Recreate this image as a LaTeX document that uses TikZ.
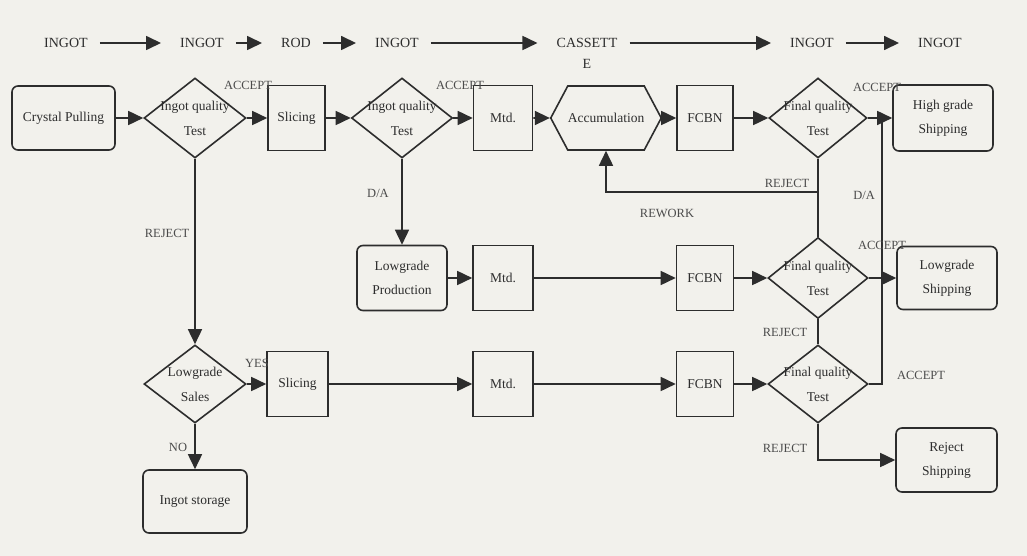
\documentclass[tikz,border=0pt]{standalone}
\usepackage{fontspec}
\setmainfont{Liberation Serif}
\usetikzlibrary{arrows.meta,shapes.geometric,shapes.symbols}
\definecolor{bg}{RGB}{242,241,236}
\definecolor{ink}{RGB}{45,45,45}
\definecolor{lab}{RGB}{75,75,75}
\newcommand{\dtext}[1]{\smash{\makebox[0pt]{\raisebox{-4pt}{\begin{tabular}{@{}c@{}}#1\end{tabular}}}}}
\begin{document}
\begin{tikzpicture}[x=1pt,y=-1pt,
  every node/.style={text=ink},
  nfont/.style={font=\fontsize{13.5}{24}\selectfont},
  box/.style={draw=ink,line width=1.6pt,rectangle,inner sep=0pt,minimum height=65pt,nfont,align=center},
  rbox/.style={box,rounded corners=6pt},
  dec/.style={draw=ink,line width=1.6pt,diamond,inner sep=0pt,minimum width=100pt,minimum height=80pt,font=\fontsize{13.5}{25}\selectfont},
  hexa/.style={draw=ink,line width=1.6pt,signal,signal to=west and east,signal pointer angle=124,inner sep=0pt,minimum width=98pt,minimum height=64pt,nfont},
  lab/.style={text=lab,inner sep=0pt,font=\fontsize{12.5}{14}\selectfont},
  toplab/.style={inner sep=0pt,font=\fontsize{14}{16}\selectfont},
  arr/.style={draw=ink,line width=1.6pt,-{Triangle[length=15pt,width=14pt]}},
  ln/.style={draw=ink,line width=1.6pt},
  tarr/.style={arr,shorten <=12pt,shorten >=19pt}
]
\fill[bg] (0,0) rectangle (1027,556);
\useasboundingbox (0,0) rectangle (1027,556);

% top row
\node[toplab] (t1) at (66,43) {INGOT};
\node[toplab] (t2) at (202,43) {INGOT};
\node[toplab] (t3) at (296,43) {ROD};
\node[toplab] (t4) at (397,43) {INGOT};
\node[toplab] (t5) at (587,43) {CASSETT};
\node[toplab] (t5e) at (587,64) {E};
\node[toplab] (t6) at (812,43) {INGOT};
\node[toplab] (t7) at (940,43) {INGOT};
\draw[tarr] (t1) -- (t2);
\draw[tarr] (t2) -- (t3);
\draw[tarr] (t3) -- (t4);
\draw[tarr] (t4) -- (t5);
\draw[tarr] (t5) -- (t6);
\draw[tarr] (t6) -- (t7);

% row 1
\node[rbox,minimum width=103pt,minimum height=64pt] (cp) at (63.5,118) {Crystal Pulling};
\node[dec,minimum width=102pt] (d1) at (195,118) {\dtext{Ingot quality\\Test}};
\node[box,minimum width=57pt] (s1) at (296.5,118) {Slicing};
\node[dec,minimum width=101pt] (d2) at (402,118) {\dtext{Ingot quality\\Test}};
\node[box,minimum width=59pt] (m1) at (503,118) {Mtd.};
\node[hexa] (acc) at (606,118) {Accumulation};
\node[box,minimum width=56pt] (f1) at (705,118) {FCBN};
\node[dec,minimum width=98pt] (fd1) at (818,118) {\dtext{Final quality\\Test}};
\node[rbox,minimum width=100pt,minimum height=66pt] (hg) at (943,118) {High grade\\Shipping};

% row 2
\node[rbox,minimum width=90pt] (lp) at (402,278) {Lowgrade\\Production};
\node[box,minimum width=60pt] (m2) at (503,278) {Mtd.};
\node[box,minimum width=57pt] (f2) at (705,278) {FCBN};
\node[dec,minimum height=81pt] (fd2) at (818,278) {\dtext{Final quality\\Test}};
\node[rbox,minimum width=100pt,minimum height=63pt] (lsh) at (947,278) {Lowgrade\\Shipping};

% row 3
\node[dec,minimum width=102pt,minimum height=78pt] (ls) at (195,384) {\dtext{Lowgrade\\Sales}};
\node[box,minimum width=61pt] (s2) at (297.5,384) {Slicing};
\node[box,minimum width=60pt] (m3) at (503,384) {Mtd.};
\node[box,minimum width=57pt] (f3) at (705,384) {FCBN};
\node[dec,minimum height=78pt] (fd3) at (818,384) {\dtext{Final quality\\Test}};
\node[rbox,minimum width=101pt,minimum height=64pt] (rs) at (946.5,460) {Reject\\Shipping};
\node[rbox,minimum width=104pt,minimum height=63pt] (is) at (195,501.5) {Ingot storage};

\coordinate (j1) at (882,118);
\coordinate (j3) at (882,384);
\coordinate (rw) at (818,192);

% connectors row 1
\draw[arr] (cp) -- (d1);
\draw[arr] (d1) -- (s1);
\draw[arr] (s1) -- (d2);
\draw[arr] (d2) -- (m1);
\draw[arr] (m1) -- (acc);
\draw[arr] (acc) -- (f1);
\draw[arr] (f1) -- (fd1);
\draw[arr] (fd1) -- (hg);
% row 2
\draw[arr] (d2) -- (lp);
\draw[arr] (lp) -- (m2);
\draw[arr] (m2) -- (f2);
\draw[arr] (f2) -- (fd2);
\draw[arr] (fd2) -- (lsh);
% row 3
\draw[arr] (d1) -- (ls);
\draw[arr] (ls) -- (s2);
\draw[arr] (s2) -- (m3);
\draw[arr] (m3) -- (f3);
\draw[arr] (f3) -- (fd3);
\draw[arr] (ls) -- (is);
% right side
\draw[ln] (fd1.south) -- (fd2.north);
\draw[arr] (rw) -| (acc.south);
\draw[ln] (fd2.south) -- (fd3.north);
\draw[ln] (fd3.east) -- (j3) -- (j1);
\draw[arr] (fd3.south) |- (rs.west);

% labels
\node[lab] (la1) at (248,85) {ACCEPT};
\node[lab] (la2) at (460,85) {ACCEPT};
\node[lab] (la3) at (877,87) {ACCEPT};
\node[lab] (la4) at (882,245) {ACCEPT};
\node[lab] (la5) at (921,375) {ACCEPT};
\node[lab] (lr1) at (167,233) {REJECT};
\node[lab] (lr2) at (787,183) {REJECT};
\node[lab] (lr3) at (785,332) {REJECT};
\node[lab] (lr4) at (785,448) {REJECT};
\node[lab] (lda1) at (378,193) {D/A};
\node[lab] (lda2) at (864,195) {D/A};
\node[lab] (lrw) at (667,213) {REWORK};
\node[lab] (lyes) at (257,363) {YES};
\node[lab] (lno) at (178,447) {NO};
\end{tikzpicture}
\end{document}
